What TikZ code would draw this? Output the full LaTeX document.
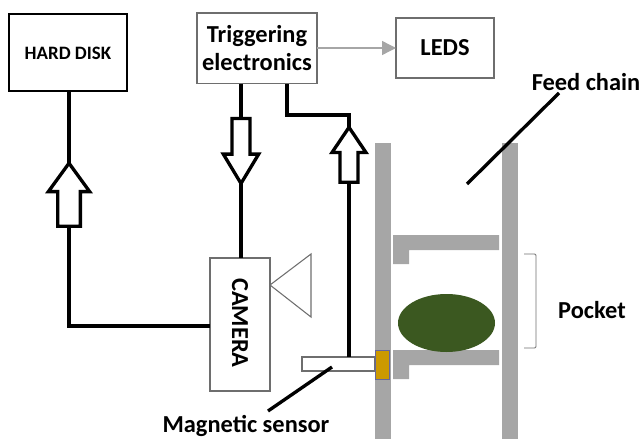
\documentclass[tikz,border=0pt]{standalone}
\usepackage{fontspec}
\setmainfont{Carlito}
\usetikzlibrary{shapes.arrows,arrows.meta}
\definecolor{railgray}{HTML}{A6A6A6}
\definecolor{boxgray}{HTML}{6E6E6E}
\definecolor{pod}{HTML}{3B5820}
\definecolor{amber}{HTML}{CC9900}
\tikzset{
 x=0.75pt,y=-0.75pt,
 lbl/.style={font=\bfseries,text=black,inner sep=0pt,outer sep=0pt,align=center},
 biglbl/.style={lbl,font=\bfseries\fontsize{18.3pt}{21.5pt}\selectfont},
 blackbox/.style={draw=black,line width=1.5pt,fill=white,inner sep=0pt,outer sep=0pt,anchor=north west},
 graybox/.style={draw=boxgray,line width=1.2pt,fill=white,inner sep=0pt,outer sep=0pt,anchor=north west},
 thinbox/.style={draw=boxgray,line width=0.8pt,fill=white,inner sep=0pt,outer sep=0pt,anchor=north west},
 wire/.style={draw=black,line width=2.5pt,line join=miter},
 leader/.style={draw=black,line width=2.5pt},
 rail/.style={fill=railgray,draw=none},
 blockarrow/.style={draw=black,line width=2.5pt,fill=white,shape=single arrow,outer sep=0pt,inner sep=0pt,
   single arrow head indent=0pt},
}
\begin{document}
\begin{tikzpicture}
\useasboundingbox (0,0) rectangle (642,439);
% rails
\fill[rail] (375,143) rectangle (391,439);
\fill[rail] (502,143) rectangle (518,439);
% pocket flights
\fill[rail] (393,235) -- (499,235) -- (499,250) -- (409,250) -- (409,264) -- (393,264) -- cycle;
\fill[rail] (393,350) -- (499,350) -- (499,365) -- (409,365) -- (409,379) -- (393,379) -- cycle;
% product
\fill[pod] (446.5,323) ellipse [x radius=48.5,y radius=29];
% bracket
\draw[draw=boxgray,line width=0.7pt,rounded corners=1pt] (524,254) -- (536,254) -- (536,348) -- (524,348);
% boxes
\node[blackbox,minimum width=88.5pt,minimum height=57.75pt] (disk) at (9,14) {};
\node[lbl,font=\bfseries\fontsize{14.2pt}{17pt}\selectfont] at (68,53) {HARD DISK};
\node[graybox,minimum width=90pt,minimum height=53pt] (trig) at (197,13) {};
\node[biglbl] at (257,48) {Triggering\\electronics};
\node[graybox,minimum width=73.5pt,minimum height=45pt] (leds) at (396,18) {};
\node[biglbl] at (445,48) {LEDS};
\node[thinbox,minimum width=45pt,minimum height=99.75pt] (cam) at (210,258) {};
\node[biglbl,rotate=-90] at (240,323) {CAMERA};
\draw[draw=boxgray,line width=0.8pt,line join=miter] (cam.north east |- 0,285) -- (311,254) -- (311,317) -- cycle;
% sensor
\node[thinbox,minimum width=54.75pt,minimum height=10.5pt] (sensor) at (302,357) {};
\node[draw=gray!80!blue,line width=0.7pt,fill=amber,inner sep=0pt,outer sep=0pt,anchor=north west,minimum width=11pt,minimum height=21.75pt] (mag) at (375,350) {};
% block arrows
\node[blockarrow,shape border rotate=90,minimum height=47.25pt,minimum width=28pt,single arrow tip angle=72,single arrow head extend=7pt,text width=14.5pt] (a1) at (69,202.5) {};
\node[blockarrow,shape border rotate=270,minimum height=48.75pt,minimum width=24pt,single arrow tip angle=62,single arrow head extend=6.5pt,text width=11pt] (a2) at (241,143.5) {};
\node[blockarrow,shape border rotate=90,minimum height=41.25pt,minimum width=23pt,single arrow tip angle=68,single arrow head extend=6pt,text width=11pt] (a3) at (349,161.5) {};
% wires
\draw[wire] (disk.south -| a1.tip) -- (a1.tip);
\draw[wire] (a1.tail) -- (a1.tail |- 0,326) -- (cam.west |- 0,326);
\draw[wire] (trig.south -| a2.tip) -- (a2.tail);
\draw[wire] (a2.tip) -- (a2.tip |- cam.north);
\draw[wire] (287,84) -- (287,115) -- (349,115) -- (a3.tip);
\draw[wire] (a3.tail) -- (a3.tail |- sensor.north);
% gray arrow
\draw[draw=railgray,line width=1pt,-{Triangle[length=10.5pt,width=10.5pt,fill=railgray]}] (trig.east |- 0,48) -- (leds.west |- 0,48);
% labels and leaders
\node[biglbl] (feed) at (586,82) {Feed chain};
\coordinate (feedend) at (467,184);
\draw[leader] (559,93) -- (feedend);
\node[biglbl] (msl) at (246,426) {Magnetic sensor};
\draw[leader] (268,411) -- (332,367);
\node[biglbl] (pocket) at (592,310) {Pocket};
\end{tikzpicture}
\end{document}
